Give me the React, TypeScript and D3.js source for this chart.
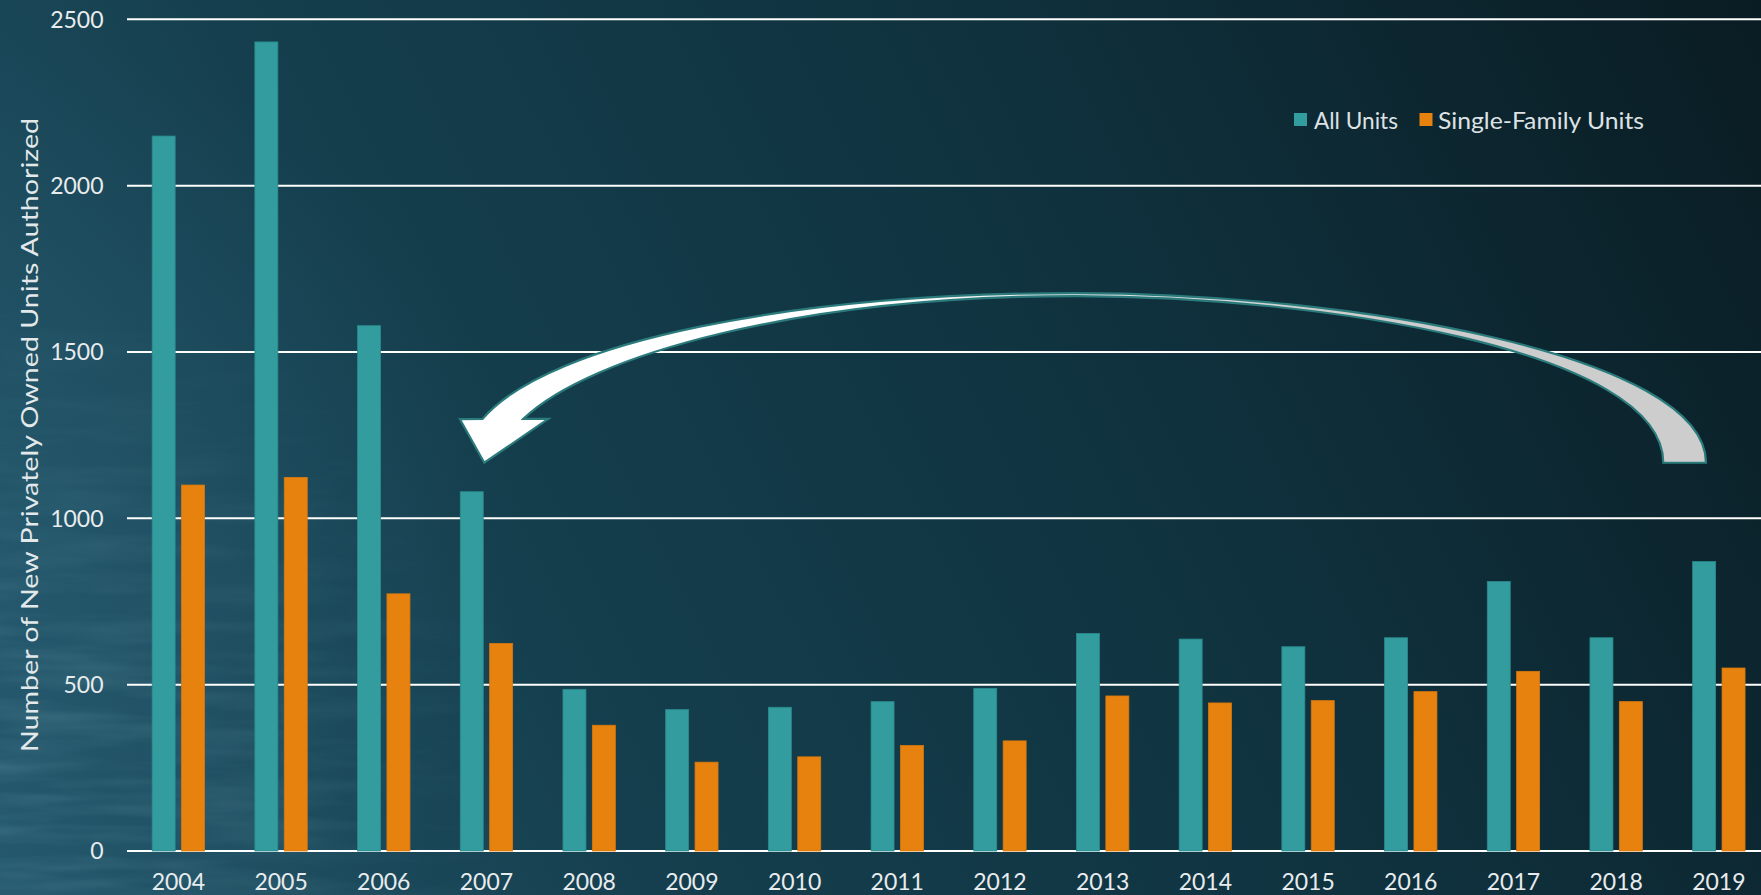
import React from "react";
import * as d3 from "d3";

const years = ["2004","2005","2006","2007","2008","2009","2010","2011","2012","2013","2014","2015","2016","2017","2018","2019"];
const allUnits = [2149, 2432, 1579, 1080, 486, 425, 432, 449, 489, 654, 637, 614, 641, 810, 641, 870];
const singleFamily = [1100, 1123, 773, 624, 378, 267, 283, 317, 331, 466, 445, 452, 479, 540, 449, 550];
const yTicks = [0, 500, 1000, 1500, 2000, 2500];
const seriesNames = ["All Units", "Single-Family Units"];
const seriesColors = ["#339c9e", "#e8820f"];

// Annotation arrow in data space [category index, value]: cubic Bezier control points
const arrowOuterRight: [number, number][] = [[14.875, 1167], [14.875, 1491], [11.408, 1677], [8.731, 1677]];
const arrowOuterLeft: [number, number][] = [[8.731, 1677], [6.053, 1677], [3.619, 1536], [2.963, 1299]];
const arrowHead: [number, number][] = [[2.742, 1298], [2.979, 1167], [3.602, 1299], [3.359, 1299]];
const arrowInnerLeft: [number, number][] = [[3.359, 1299], [4.008, 1491], [6.053, 1668], [8.731, 1668]];
const arrowInnerRight: [number, number][] = [[8.731, 1668], [11.116, 1668], [14.459, 1506], [14.459, 1167]];

const W = 1761;
const H = 895;
const FONT = "Lato, 'Open Sans', sans-serif";

export default function App() {
  const left = 127;
  const step = 102.7;
  const x = d3.scaleBand<string>().domain(years).range([left, left + step * years.length]).paddingInner(0.49).paddingOuter(0.245);
  const x1 = d3.scaleBand<number>().domain([0, 1]).range([0, x.bandwidth()]).paddingInner(0.218);
  const y = d3.scaleLinear().domain([0, 2500]).range([851, 19.3]);

  const ax = (i: number) => (x(years[0]) as number) + x.bandwidth() / 2 + i * x.step();
  const P = (d: [number, number]): [number, number] => [ax(d[0]), y(d[1])];

  const p = d3.path();
  const s0 = P(arrowOuterRight[0]);
  p.moveTo(s0[0], s0[1]);
  const curve = (seg: [number, number][]) => {
    const a = P(seg[1]), b = P(seg[2]), c = P(seg[3]);
    p.bezierCurveTo(a[0], a[1], b[0], b[1], c[0], c[1]);
  };
  curve(arrowOuterRight);
  curve(arrowOuterLeft);
  arrowHead.forEach((d) => { const q = P(d); p.lineTo(q[0], q[1]); });
  curve(arrowInnerLeft);
  curve(arrowInnerRight);
  p.closePath();
  const arrowD = p.toString();

  const series = [allUnits, singleFamily];

  return (
    <svg width={W} height={H} style={{ position: "fixed", left: 0, top: 0, display: "block" }} fontFamily={FONT}>
      <defs>
        <linearGradient id="bg" x1="0" y1={H} x2={W} y2="0" gradientUnits="userSpaceOnUse">
          <stop offset="0" stopColor="#23566b" />
          <stop offset="0.3" stopColor="#153f4e" />
          <stop offset="0.65" stopColor="#0f313d" />
          <stop offset="1" stopColor="#0a1c23" />
        </linearGradient>
        <radialGradient id="glow" cx="0" cy="560" r="520" gradientUnits="userSpaceOnUse">
          <stop offset="0" stopColor="#2b6176" stopOpacity="0.45" />
          <stop offset="1" stopColor="#2b6176" stopOpacity="0" />
        </radialGradient>
        <filter id="tex" x="0" y="0" width="100%" height="100%">
          <feTurbulence type="fractalNoise" baseFrequency="0.006 0.05" numOctaves="3" seed="3" />
          <feColorMatrix type="matrix" values="0 0 0 0 0.16  0 0 0 0 0.36  0 0 0 0 0.44  0 0 0 1.6 -0.6" />
        </filter>
        <radialGradient id="texMask" cx="0" cy="820" r="560" gradientUnits="userSpaceOnUse">
          <stop offset="0" stopColor="#fff" stopOpacity="0.75" />
          <stop offset="0.5" stopColor="#fff" stopOpacity="0.35" />
          <stop offset="1" stopColor="#fff" stopOpacity="0" />
        </radialGradient>
        <mask id="m">
          <rect x="0" y="0" width={W} height={H} fill="url(#texMask)" />
        </mask>
        <linearGradient id="arrowFill" x1="880" y1="0" x2="1320" y2="0" gradientUnits="userSpaceOnUse">
          <stop offset="0" stopColor="#ffffff" />
          <stop offset="1" stopColor="#cdcdcd" />
        </linearGradient>
      </defs>
      <rect x="0" y="0" width={W} height={H} fill="url(#bg)" />
      <rect x="0" y="0" width={W} height={H} fill="url(#glow)" />
      <rect x="0" y="0" width={W} height={H} filter="url(#tex)" mask="url(#m)" opacity="0.5" />

      {yTicks.map((t) => (
        <g key={t}>
          <line x1={left} x2={W} y1={y(t)} y2={y(t)} stroke="#ffffff" strokeWidth={2} />
          <text x={103.5} y={y(t)} dy="0.36em" textAnchor="end" fontSize={23} fill="#e8ecee">{t}</text>
        </g>
      ))}

      {years.map((yr, i) => (
        <g key={yr} transform={`translate(${x(yr)},0)`}>
          {series.map((s, k) => (
            <rect key={k} x={x1(k)} y={y(s[i])} width={x1.bandwidth()} height={y(0) - y(s[i])}
              fill={seriesColors[k]} stroke={k === 0 ? "#2b8a8c" : "#d9780d"} strokeWidth={0.8} />
          ))}
          <text x={x.bandwidth() / 2} y={890} textAnchor="middle" fontSize={23} fill="#e8ecee">{yr}</text>
        </g>
      ))}

      <path d={arrowD} fill="url(#arrowFill)" stroke="#2b7b7c" strokeWidth={2.2} strokeLinejoin="miter" />

      <text transform={`translate(38,435) rotate(-90)`} textAnchor="middle" fontSize={24} fill="#e3e8ea"
        textLength={634} lengthAdjust="spacingAndGlyphs">
        Number of New Privately Owned Units Authorized
      </text>

      <g>
        <rect x={1294} y={113} width={13} height={13} fill={seriesColors[0]} />
        <text x={1314} y={129} fontSize={23} fill="#dde2e5" textLength={84} lengthAdjust="spacingAndGlyphs">{seriesNames[0]}</text>
        <rect x={1419.5} y={113} width={13} height={13} fill={seriesColors[1]} />
        <text x={1438} y={129} fontSize={23} fill="#dde2e5" textLength={206} lengthAdjust="spacingAndGlyphs">{seriesNames[1]}</text>
      </g>
    </svg>
  );
}
